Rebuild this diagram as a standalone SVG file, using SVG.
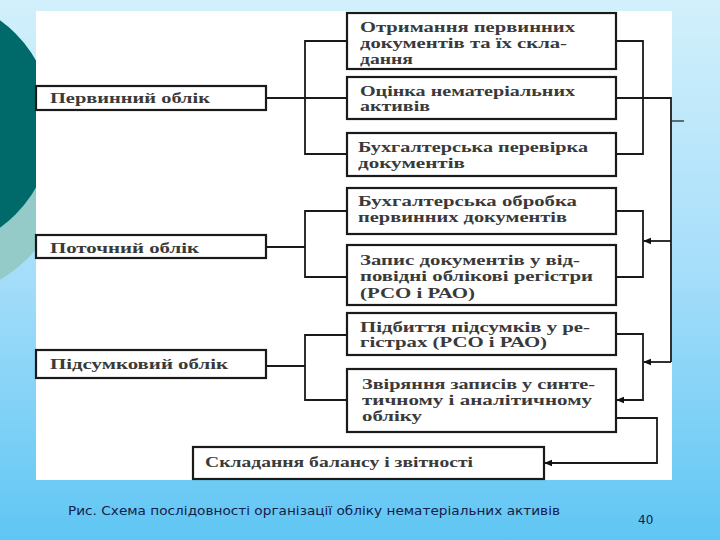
<svg xmlns="http://www.w3.org/2000/svg" width="720" height="540" viewBox="0 0 720 540">
<defs>
<linearGradient id="bg" x1="0" y1="0" x2="0" y2="1">
<stop offset="0" stop-color="#d2f0fb"/>
<stop offset="0.5" stop-color="#a6defa"/>
<stop offset="1" stop-color="#5fc6f3"/>
</linearGradient>
<marker id="ah" viewBox="0 0 8 8" refX="7" refY="4" markerWidth="8" markerHeight="8" markerUnits="userSpaceOnUse" orient="auto">
<path d="M0,0.8 L8,4 L0,7.2 Z" fill="#111"/>
</marker>
<style>
.box{fill:#fff;stroke:#1a1a1a;stroke-width:2.2}
.t{font-family:"Liberation Serif","Times New Roman",serif;font-size:15px;font-weight:bold;fill:#3a3a3a}
.c{fill:none;stroke:#1a1a1a;stroke-width:1.8}
.cap{font-family:"DejaVu Sans","Noto Sans",sans-serif;font-size:12px;fill:#16204a}
</style>
</defs>
<rect x="0" y="0" width="720" height="540" fill="url(#bg)"/>
<circle cx="-62" cy="170" r="126" fill="#94cbc8"/>
<circle cx="-75" cy="124" r="128" fill="#00696a"/>
<rect x="36" y="11" width="636" height="469" fill="#fff"/>
<line x1="672" y1="121" x2="684" y2="121" stroke="#1a1a1a" stroke-width="1.2"/>

<g id="connectors">
<polyline class="c" points="266,98 305,98"/>
<polyline class="c" points="347,41 305,41 305,154 347,154"/>
<polyline class="c" points="305,98 347,98"/>
<polyline class="c" points="266,247 305,247"/>
<polyline class="c" points="347,211 305,211 305,277 347,277"/>
<polyline class="c" points="266,366 305,366"/>
<polyline class="c" points="347,335 305,335 305,400 347,400"/>
<polyline class="c" points="616,41 643,41 643,154 616,154"/>
<polyline class="c" points="616,98 671,98 671,362"/>
<polyline class="c" points="671,241 644,241" marker-end="url(#ah)"/>
<polyline class="c" points="616,211 643,211 643,277 616,277"/>
<polyline class="c" points="671,362 644,362" marker-end="url(#ah)"/>
<polyline class="c" points="616,334 643,334 643,400 617,400" marker-end="url(#ah)"/>
<polyline class="c" points="616,418 657,418 657,463 545,463" marker-end="url(#ah)"/>
</g>

<g id="n-pervynnyi">
<rect class="box" x="36" y="86" width="230" height="24"/>
<text class="t" x="50" y="103" textLength="160" lengthAdjust="spacingAndGlyphs">Первинний облік</text>
</g>
<g id="n-potochnyi">
<rect class="box" x="36" y="235" width="230" height="23"/>
<text class="t" x="50" y="253" textLength="149" lengthAdjust="spacingAndGlyphs">Поточний облік</text>
</g>
<g id="n-pidsumkovyi">
<rect class="box" x="36" y="350" width="230" height="28"/>
<text class="t" x="50" y="369" textLength="178" lengthAdjust="spacingAndGlyphs">Підсумковий облік</text>
</g>

<g id="n-otrymannia">
<rect class="box" x="347" y="13" width="269" height="56"/>
<text class="t" x="360" y="32" textLength="215" lengthAdjust="spacingAndGlyphs">Отримання первинних</text>
<text class="t" x="360" y="48" textLength="207" lengthAdjust="spacingAndGlyphs">документів та їх скла-</text>
<text class="t" x="360" y="64" textLength="53" lengthAdjust="spacingAndGlyphs">дання</text>
</g>
<g id="n-otsinka">
<rect class="box" x="347" y="77" width="269" height="42"/>
<text class="t" x="360" y="96" textLength="215" lengthAdjust="spacingAndGlyphs">Оцінка нематеріальних</text>
<text class="t" x="360" y="111" textLength="70" lengthAdjust="spacingAndGlyphs">активів</text>
</g>
<g id="n-perevirka">
<rect class="box" x="347" y="133" width="269" height="43"/>
<text class="t" x="358" y="152" textLength="230" lengthAdjust="spacingAndGlyphs">Бухгалтерська перевірка</text>
<text class="t" x="358" y="168" textLength="107" lengthAdjust="spacingAndGlyphs">документів</text>
</g>
<g id="n-obrobka">
<rect class="box" x="347" y="188" width="269" height="46"/>
<text class="t" x="358" y="206" textLength="219" lengthAdjust="spacingAndGlyphs">Бухгалтерська обробка</text>
<text class="t" x="358" y="222" textLength="209" lengthAdjust="spacingAndGlyphs">первинних документів</text>
</g>
<g id="n-zapys">
<rect class="box" x="347" y="245" width="269" height="60"/>
<text class="t" x="360" y="265" textLength="220" lengthAdjust="spacingAndGlyphs">Запис документів у від-</text>
<text class="t" x="360" y="281" textLength="233" lengthAdjust="spacingAndGlyphs">повідні облікові регістри</text>
<text class="t" x="360" y="298" textLength="115" lengthAdjust="spacingAndGlyphs">(РСО і РАО)</text>
</g>
<g id="n-pidbyttia">
<rect class="box" x="347" y="313" width="269" height="42"/>
<text class="t" x="360" y="332" textLength="230" lengthAdjust="spacingAndGlyphs">Підбиття підсумків у ре-</text>
<text class="t" x="360" y="347" textLength="187" lengthAdjust="spacingAndGlyphs">гістрах (РСО і РАО)</text>
</g>
<g id="n-zviriannia">
<rect class="box" x="347" y="369" width="269" height="63"/>
<text class="t" x="362" y="389" textLength="233" lengthAdjust="spacingAndGlyphs">Звіряння записів у синте-</text>
<text class="t" x="362" y="405" textLength="230" lengthAdjust="spacingAndGlyphs">тичному і аналітичному</text>
<text class="t" x="362" y="421" textLength="60" lengthAdjust="spacingAndGlyphs">обліку</text>
</g>
<g id="n-skladannia">
<rect class="box" x="193" y="447" width="351" height="32"/>
<text class="t" x="205" y="467" textLength="268" lengthAdjust="spacingAndGlyphs">Складання балансу і звітності</text>
</g>

<text class="cap" x="68" y="515" textLength="492" lengthAdjust="spacingAndGlyphs">Рис. Схема послідовності організації обліку нематеріальних активів</text>
<text class="cap" x="638" y="524">40</text>
</svg>
